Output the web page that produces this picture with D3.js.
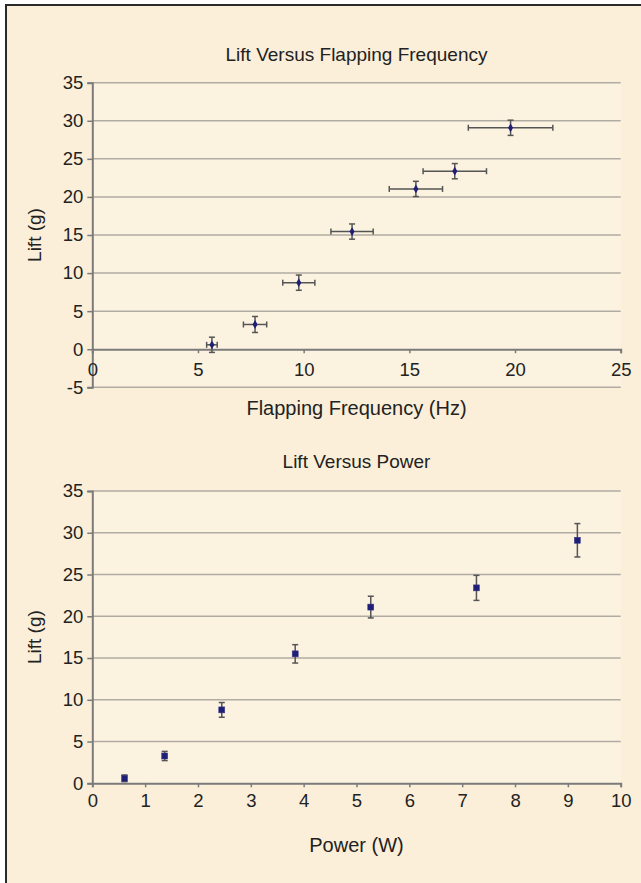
<!DOCTYPE html>
<html>
<head>
<meta charset="utf-8">
<script src="https://cdn.jsdelivr.net/npm/d3@7"></script>
<style>
  html, body { margin: 0; padding: 0; background: #ffffff; }
  svg { display: block; }
  text { font-family: "Liberation Sans", Arial, sans-serif; fill: #222; }
</style>
</head>
<body>
<script>
// ---------- data ----------
const freqX        = [5.66, 7.70, 9.77, 12.29, 15.31, 17.15, 19.79];
const freqXErr     = [0.25, 0.55, 0.76, 1.00, 1.26, 1.50, 2.00];
const liftTop      = [0.58, 3.25, 8.74, 15.45, 21.05, 23.38, 29.08];
const liftTopErr   = [1.0, 1.05, 1.0, 1.0, 1.0, 1.0, 1.0];

const powerX       = [0.61, 1.37, 2.45, 3.84, 5.27, 7.27, 9.18];
const liftBottom   = [0.6, 3.27, 8.79, 15.5, 21.1, 23.4, 29.1];
const liftBottomErr= [0.4, 0.55, 0.88, 1.1, 1.3, 1.5, 2.0];

const freqTicks        = [0, 5, 10, 15, 20, 25];
const liftTopTicks     = [-5, 0, 5, 10, 15, 20, 25, 30, 35];
const powerTicks       = [0, 1, 2, 3, 4, 5, 6, 7, 8, 9, 10];
const liftBottomTicks  = [0, 5, 10, 15, 20, 25, 30, 35];

const titleTop    = "Lift Versus Flapping Frequency";
const titleBottom = "Lift Versus Power";
const xLabelTop   = "Flapping Frequency (Hz)";
const xLabelBottom= "Power (W)";
const yLabel      = "Lift (g)";

// ---------- layout ----------
const W = 641, H = 883;
const svg = d3.select("body").append("svg").attr("width", W).attr("height", H);

svg.append("rect").attr("x", 6).attr("y", 5).attr("width", W + 10).attr("height", H + 10)
  .attr("fill", "#fbefd9").attr("stroke", "#2a2a2a").attr("stroke-width", 2);

const left = 92.3, right = 620.7;
const gridColor = "#b0aba3", axisColor = "#7b7b7b";
const markColor = "#1f1f78", errColor = "#555555";
const fmt = d => String(d);

function chart(cfg) {
  const x = d3.scaleLinear().domain(cfg.xDomain).range([left, right]);
  const y = d3.scaleLinear().domain(cfg.yDomain).range([cfg.yBottom, cfg.yTop]);
  const g = svg.append("g");

  g.append("rect").attr("x", left).attr("y", cfg.yTop)
    .attr("width", right - left).attr("height", cfg.yBottom - cfg.yTop)
    .attr("fill", "#fcf2e0");

  // gridlines
  g.selectAll(".grid").data(cfg.yTicks.filter(v => v !== 0)).join("line")
    .attr("x1", left).attr("x2", right)
    .attr("y1", d => y(d)).attr("y2", d => y(d))
    .attr("stroke", gridColor).attr("stroke-width", 1.5);

  // y axis
  const ya = g.append("g").attr("transform", `translate(${left},0)`)
    .call(d3.axisLeft(y).tickValues(cfg.yTicks).tickSize(5).tickPadding(4).tickFormat(fmt));
  ya.select(".domain").attr("stroke", axisColor).attr("stroke-width", 2);
  ya.selectAll(".tick line").attr("stroke", axisColor).attr("stroke-width", 1.5);
  ya.selectAll("text").style("font-size", "18.5px").attr("fill", "#222")
    .style("font-family", '"Liberation Sans", Arial, sans-serif');

  // x axis at y = 0
  const xa = g.append("g").attr("transform", `translate(0,${y(0)})`)
    .call(d3.axisBottom(x).tickValues(cfg.xTicks).tickSize(4).tickPadding(cfg.xPad).tickFormat(fmt));
  xa.select(".domain").attr("stroke", axisColor).attr("stroke-width", 2);
  xa.selectAll(".tick line").attr("stroke", axisColor).attr("stroke-width", 1.5);
  xa.selectAll("text").style("font-size", "18.5px").attr("fill", "#222")
    .style("font-family", '"Liberation Sans", Arial, sans-serif');

  // titles
  g.append("text").attr("x", (left + right) / 2).attr("y", cfg.titleY)
    .attr("text-anchor", "middle").style("font-size", "19px").text(cfg.title);
  g.append("text").attr("x", (left + right) / 2).attr("y", cfg.xLabelY)
    .attr("text-anchor", "middle").style("font-size", "20px").text(cfg.xLabel);
  g.append("text")
    .attr("transform", `translate(34,${(cfg.yTop + cfg.yBottom) / 2}) rotate(-90)`)
    .attr("text-anchor", "middle").attr("dominant-baseline", "central")
    .style("font-size", "19px").text(yLabel);

  const pts = cfg.xs.map((v, i) => ({x: v, y: cfg.ys[i], ex: cfg.xErr ? cfg.xErr[i] : 0, ey: cfg.yErr[i]}));

  // error bars
  const eb = g.append("g").attr("stroke", errColor).attr("stroke-width", 1.5).attr("fill", "none");
  const cap = cfg.cap;
  pts.forEach(p => {
    if (p.ex > 0) {
      eb.append("line").attr("x1", x(p.x - p.ex)).attr("x2", x(p.x + p.ex)).attr("y1", y(p.y)).attr("y2", y(p.y));
      [p.x - p.ex, p.x + p.ex].forEach(v =>
        eb.append("line").attr("x1", x(v)).attr("x2", x(v)).attr("y1", y(p.y) - cap).attr("y2", y(p.y) + cap));
    }
    eb.append("line").attr("x1", x(p.x)).attr("x2", x(p.x)).attr("y1", y(p.y - p.ey)).attr("y2", y(p.y + p.ey));
    [p.y - p.ey, p.y + p.ey].forEach(v =>
      eb.append("line").attr("x1", x(p.x) - cap).attr("x2", x(p.x) + cap).attr("y1", y(v)).attr("y2", y(v)));
  });

  // markers
  if (cfg.marker === "diamond") {
    g.selectAll(".pt").data(pts).join("path")
      .attr("transform", d => `translate(${x(d.x)},${y(d.y)})`)
      .attr("d", d3.symbol(d3.symbolDiamond, 22))
      .attr("fill", markColor);
  } else {
    g.selectAll(".pt").data(pts).join("rect")
      .attr("x", d => x(d.x) - 3).attr("y", d => y(d.y) - 3)
      .attr("width", 6).attr("height", 6)
      .attr("fill", markColor).attr("stroke", "#3a3a8a").attr("stroke-width", 0.5);
  }
}

chart({
  xDomain: [0, 25], yDomain: [-5, 35], yTop: 82.7, yBottom: 387.3,
  xTicks: freqTicks, yTicks: liftTopTicks, xPad: 10,
  title: titleTop, titleY: 61, xLabel: xLabelTop, xLabelY: 415,
  xs: freqX, ys: liftTop, xErr: freqXErr, yErr: liftTopErr,
  marker: "diamond", cap: 3
});

chart({
  xDomain: [0, 10], yDomain: [0, 35], yTop: 491, yBottom: 783.3,
  xTicks: powerTicks, yTicks: liftBottomTicks, xPad: 7,
  title: titleBottom, titleY: 468, xLabel: xLabelBottom, xLabelY: 851.7,
  xs: powerX, ys: liftBottom, xErr: null, yErr: liftBottomErr,
  marker: "square", cap: 3
});
</script>
</body>
</html>
